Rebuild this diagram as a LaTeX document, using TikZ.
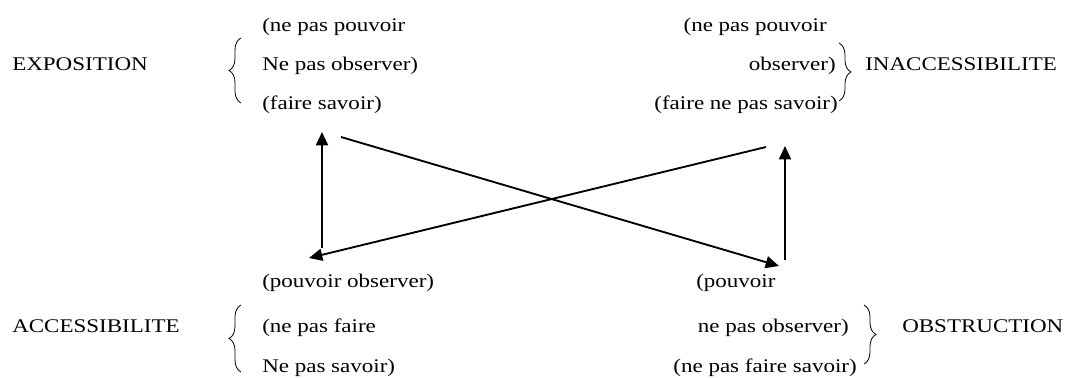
\documentclass[tikz,border=0pt]{standalone}
\usepackage{fontspec}
\setmainfont[FakeStretch=1.19]{Liberation Serif}
\usetikzlibrary{arrows.meta,decorations.pathreplacing}
\tikzset{
  lbl/.style={inner sep=0pt,font=\fontsize{14.5}{16}\selectfont},
  lw/.style={lbl,anchor=base west},
  le/.style={lbl,anchor=base east},
  arr/.style={line width=1.4pt,-{Triangle[length=10pt,width=9pt]}},
  brc/.style={line width=0.6pt,decorate,decoration={brace,amplitude=9pt}}
}
\begin{document}
\begin{tikzpicture}[x=0.75pt,y=-0.75pt]
\useasboundingbox (0,0) rectangle (1072,378);
% top left
\node[lw] (expo) at (12,71) {EXPOSITION};
\node[lw] (tl1) at (262,32) {(ne pas pouvoir};
\node[lw] (tl2) at (262,71) {Ne pas observer)};
\node[lw] (tl3) at (262,109) {(faire savoir)};
% top right
\node[le] (tr1) at (827,32) {(ne pas pouvoir};
\node[le] (tr2) at (836,71) {observer)};
\node[le] (tr3) at (838,109) {(faire ne pas savoir)};
\node[lw] (inac) at (865,71) {INACCESSIBILITE};
% bottom left
\node[lw] (bl1) at (262,287) {(pouvoir observer)};
\node[lw] (acc) at (12,332) {ACCESSIBILITE};
\node[lw] (bl2) at (262,332) {(ne pas faire};
\node[lw] (bl3) at (262,372) {Ne pas savoir)};
% bottom right
\node[lw] (br1) at (696,287) {(pouvoir};
\node[le] (br2) at (849,332) {ne pas observer)};
\node[le] (br3) at (857,372) {(ne pas faire savoir)};
\node[lw] (obs) at (902,332) {OBSTRUCTION};
% braces
\coordinate (b1a) at (241,103);
\coordinate (b1b) at (241,38);
\coordinate (b2a) at (839,43);
\coordinate (b2b) at (839,101);
\coordinate (b3a) at (241,372);
\coordinate (b3b) at (241,305);
\coordinate (b4a) at (864,305);
\coordinate (b4b) at (864,364);
\draw[brc] (b1a) -- (b1b);
\draw[brc] (b2a) -- (b2b);
\draw[brc] (b3a) -- (b3b);
\draw[brc] (b4a) -- (b4b);
% arrows
\coordinate (a1s) at (322,248);
\coordinate (a1e) at (322,132);
\coordinate (a2s) at (341,137);
\coordinate (a2e) at (779,266);
\coordinate (a3s) at (785,260);
\coordinate (a3e) at (785,146);
\coordinate (a4s) at (766,147);
\coordinate (a4e) at (309,258);
\draw[arr] (a1s) -- (a1e);
\draw[arr] (a2s) -- (a2e);
\draw[arr] (a3s) -- (a3e);
\draw[arr] (a4s) -- (a4e);
\end{tikzpicture}
\end{document}
